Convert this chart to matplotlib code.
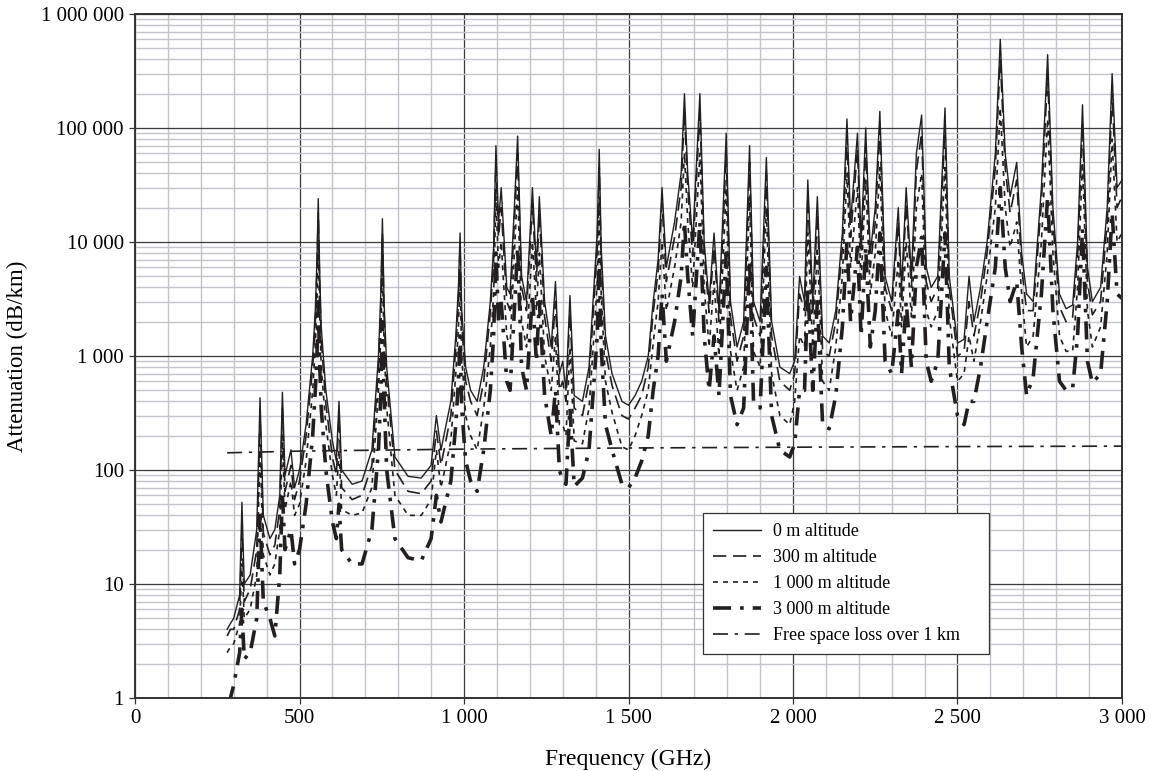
import matplotlib
matplotlib.use("Agg")
import matplotlib.pyplot as plt
from matplotlib.ticker import FixedLocator, NullFormatter

plt.rcParams['font.family'] = ['Liberation Serif', 'DejaVu Serif']

# Frequency grid (GHz) shared by the attenuation curves
freq = [280, 290, 300, 318, 325, 332, 350, 370, 380, 390, 410, 425, 440, 448, 456, 474, 485,
        500, 520, 540, 548, 553, 557, 561, 566, 580, 600, 612, 620, 628, 660, 690, 720, 740, 747,
        752, 757, 765, 790, 830, 870, 900, 916, 930, 960, 975, 983, 988, 993, 1005, 1020, 1040,
        1060, 1080, 1090, 1097, 1105, 1113, 1130, 1140, 1153, 1163, 1175, 1190, 1208, 1220, 1229,
        1245, 1265, 1278, 1290, 1300, 1310, 1322, 1335, 1360, 1380, 1395, 1405, 1411, 1417, 1430,
        1450, 1480, 1500, 1520, 1540, 1560, 1575, 1590, 1602, 1615, 1640, 1660, 1670, 1680, 1695,
        1717, 1730, 1745, 1760, 1775, 1797, 1810, 1830, 1850, 1868, 1880, 1900, 1919, 1935, 1960,
        1990, 2005, 2020, 2035, 2045, 2060, 2074, 2090, 2110, 2130, 2150, 2164, 2175, 2196, 2207,
        2221, 2235, 2250, 2264, 2280, 2300, 2320, 2330, 2344, 2360, 2375, 2391, 2405, 2420, 2440,
        2462, 2475, 2500, 2520, 2535, 2550, 2570, 2590, 2615, 2630, 2645, 2660, 2680, 2695, 2710,
        2730, 2755, 2774, 2790, 2810, 2830, 2850, 2865, 2880, 2895, 2910, 2935, 2955, 2970, 2985,
        3000]

att_0m = [4, 4.5, 5, 8, 52, 10, 12, 30, 430, 40, 25, 30, 60, 480, 90, 150, 70,
          100, 250, 1000, 2500, 7000, 24000, 6000, 1800, 500, 180, 120, 400, 100, 75, 80, 150, 1000, 3500,
          16000, 3000, 800, 130, 88, 85, 110, 300, 150, 400, 1500, 4000, 12000, 2500, 800, 500, 400,
          800, 3000, 9000, 70000, 15000, 30000, 4000, 3500, 20000, 85000, 5000, 3000, 30000, 6000, 25000,
          3000, 1200, 4500, 700, 900, 500, 3400, 450, 400, 800, 4000, 12000, 65000, 9000, 1500,
          700, 400, 370, 450, 600, 1000, 3000, 7000, 30000, 6000, 15000, 40000, 200000, 40000, 10000,
          200000, 10000, 3000, 12000, 2500, 90000, 3000, 1200, 2000, 70000, 3000, 2000, 55000, 2000, 800,
          700, 900, 5000, 3000, 35000, 3000, 25000, 1500, 1300, 2500, 12000, 120000, 15000, 90000, 10000,
          100000, 8000, 20000, 140000, 5000, 3000, 20000, 4000, 30000, 5000, 60000, 130000, 6000, 4000, 5000,
          150000, 5000, 1300, 1400, 5000, 2000, 4000, 10000, 60000, 600000, 60000, 25000, 50000, 8000, 3500,
          3000, 30000, 440000, 20000, 3500, 2600, 2800, 10000, 160000, 6000, 3000, 4000, 20000, 300000, 30000,
          35000]

att_300m = [3.5, 4, 4, 6, 30, 7, 9, 20, 300, 28, 18, 22, 45, 350, 65, 110, 55,
            80, 200, 800, 2000, 5500, 18000, 4500, 1400, 380, 130, 90, 300, 70, 55, 60, 110, 800, 2700,
            12000, 2300, 600, 100, 65, 62, 80, 220, 110, 300, 1200, 3000, 9000, 1900, 600, 400, 300,
            600, 2400, 7000, 50000, 11000, 20000, 3000, 2500, 15000, 60000, 4000, 2500, 22000, 4500, 18000,
            2200, 900, 3000, 500, 600, 400, 2400, 350, 300, 600, 3000, 9000, 45000, 7000, 1100,
            550, 300, 280, 350, 450, 800, 2400, 5500, 22000, 4500, 11000, 30000, 140000, 30000, 7500,
            140000, 8000, 2400, 9000, 2000, 60000, 2200, 900, 1500, 50000, 2200, 1500, 40000, 1500, 600,
            500, 700, 3500, 2500, 25000, 2300, 18000, 1100, 1000, 2000, 9000, 85000, 11000, 65000, 8000,
            70000, 6000, 15000, 100000, 4000, 2500, 15000, 3000, 22000, 4000, 42000, 90000, 4500, 3000, 4000,
            100000, 4000, 1000, 1100, 3000, 1500, 3000, 8000, 45000, 400000, 45000, 18000, 35000, 6000, 2500,
            2500, 22000, 300000, 15000, 2700, 2000, 2200, 7500, 110000, 4500, 2300, 3000, 15000, 200000, 20000,
            25000]

att_1000m = [2.5, 2.8, 3, 4.5, 15, 5, 6, 12, 150, 18, 12, 15, 30, 180, 45, 80, 40,
             50, 120, 500, 1200, 3000, 10000, 2500, 800, 250, 90, 60, 150, 45, 40, 42, 70, 500, 1500,
             6000, 1300, 350, 60, 40, 40, 55, 150, 70, 180, 700, 1800, 5000, 1000, 300, 200, 150,
             350, 1200, 3500, 25000, 6000, 10000, 1500, 1200, 8000, 30000, 2000, 1200, 10000, 2500, 8000,
             1000, 500, 1500, 250, 250, 200, 1200, 180, 170, 350, 1500, 4500, 22000, 3500, 600,
             320, 160, 150, 200, 300, 500, 1300, 3000, 10000, 2500, 6000, 15000, 60000, 15000, 4000,
             60000, 4000, 1200, 4500, 1000, 30000, 1100, 500, 800, 25000, 1100, 800, 20000, 700, 300,
             250, 400, 1500, 1200, 12000, 1200, 9000, 600, 500, 1200, 5000, 40000, 6000, 30000, 4500,
             35000, 3500, 8000, 45000, 2500, 1500, 7000, 1800, 10000, 2200, 20000, 40000, 2500, 1800, 2500,
             45000, 2200, 600, 700, 1500, 900, 2000, 5000, 20000, 150000, 20000, 9000, 15000, 3500, 1200,
             1500, 10000, 120000, 8000, 1500, 1100, 1100, 4000, 50000, 2500, 1200, 1800, 8000, 80000, 10000,
             12000]

att_3000m = [0.9, 1.0, 1.3, 2.5, 6, 2.2, 2.5, 5, 40, 7, 5, 3.5, 12, 60, 20, 30, 15,
             20, 50, 200, 500, 1000, 3000, 900, 350, 100, 35, 25, 50, 20, 15, 15, 30, 150, 450,
             2000, 450, 100, 25, 17, 16, 25, 60, 35, 80, 250, 600, 1500, 350, 120, 80, 65,
             150, 500, 1500, 8000, 2000, 3000, 600, 500, 2500, 9000, 800, 500, 3500, 900, 3000,
             450, 200, 500, 100, 80, 75, 350, 72, 85, 150, 600, 1500, 7000, 1200, 250,
             150, 75, 70, 85, 120, 200, 500, 1000, 3500, 900, 2000, 5000, 15000, 5000, 1500,
             15000, 1500, 500, 1500, 450, 8000, 450, 250, 350, 7000, 400, 350, 6000, 300, 150,
             130, 170, 500, 500, 4000, 500, 3000, 250, 230, 450, 1800, 10000, 2000, 9000, 1500,
             9000, 1200, 2500, 12000, 900, 700, 2500, 700, 3000, 800, 6000, 11000, 900, 600, 900,
             12000, 800, 300, 250, 400, 400, 800, 2000, 6000, 30000, 6000, 3000, 4500, 1200, 450,
             650, 3500, 25000, 2500, 600, 500, 520, 1500, 13000, 900, 580, 700, 3000, 18000, 3500,
             3200]

# Free space loss over 1 km (dB)
fsl_freq = [280, 500, 1000, 1500, 2000, 2500, 3000]
fsl_db = [141.5, 146.5, 152.5, 156, 158.5, 160.5, 162]

series_labels = ['0 m altitude', '300 m altitude', '1 000 m altitude', '3 000 m altitude',
                 'Free space loss over 1 km']

x_ticks = [0, 500, 1000, 1500, 2000, 2500, 3000]
x_tick_labels = ['0', '500', '1 000', '1 500', '2 000', '2 500', '3 000']
y_ticks = [1, 10, 100, 1000, 10000, 100000, 1000000]
y_tick_labels = ['1', '10', '100', '1 000', '10 000', '100 000', '1 000 000']

fig = plt.figure(figsize=(11.51, 7.71), dpi=100)
ax = fig.add_axes([0.1173, 0.0947, 0.8575, 0.8871])

ink = '#231f20'
ax.plot(freq, att_0m, color=ink, lw=1.0, ls='-', label=series_labels[0], zorder=5)
ax.plot(freq, att_300m, color=ink, lw=1.2, ls=(0, (8, 4)), label=series_labels[1], zorder=4)
ax.plot(freq, att_1000m, color=ink, lw=1.2, ls=(0, (3, 3)), label=series_labels[2], zorder=3)
ax.plot(freq, att_3000m, color=ink, lw=2.6, ls=(0, (5, 2.5, 1, 2.5)), label=series_labels[3], zorder=2)
ax.plot(fsl_freq, fsl_db, color=ink, lw=1.2, ls=(0, (9, 4, 2, 4)), label=series_labels[4], zorder=6)

ax.set_yscale('log')
ax.set_xlim(0, 3000)
ax.set_ylim(1, 1e6)

ax.xaxis.set_major_locator(FixedLocator(x_ticks))
ax.set_xticklabels(x_tick_labels)
ax.xaxis.set_minor_locator(FixedLocator([v for v in range(100, 3000, 100) if v % 500]))
ax.xaxis.set_minor_formatter(NullFormatter())
ax.yaxis.set_major_locator(FixedLocator(y_ticks))
ax.set_yticklabels(y_tick_labels)
ax.yaxis.set_minor_locator(FixedLocator([m * 10 ** e for e in range(0, 6) for m in range(2, 10)]))
ax.yaxis.set_minor_formatter(NullFormatter())

ax.grid(which='minor', color='#c4c4cc', lw=1.0, zorder=0)
ax.grid(which='major', color='#3a3a3a', lw=0.9, zorder=0)
ax.set_axisbelow(True)

ax.tick_params(which='major', direction='out', length=4, width=0.9, color='#333333',
               labelsize=15, pad=4)
ax.tick_params(which='minor', length=0)
for s in ax.spines.values():
    s.set_color('#333333')
    s.set_linewidth(1.4)

ax.set_xlabel('Frequency (GHz)', fontsize=17, labelpad=15)
ax.set_ylabel('Attenuation (dB/km)', fontsize=16.5, labelpad=9)

leg = ax.legend(loc='lower left', bbox_to_anchor=(0.5755, 0.064, 0.29, 0.2),
                bbox_transform=ax.transAxes, mode='expand',
                borderaxespad=0, fontsize=13,
                frameon=True, fancybox=False, edgecolor='#333333', framealpha=1,
                handlelength=2.65, handletextpad=0.65, borderpad=0.55, labelspacing=0.5)
leg.get_frame().set_linewidth(0.9)

fig.savefig('out.png', dpi=100)
